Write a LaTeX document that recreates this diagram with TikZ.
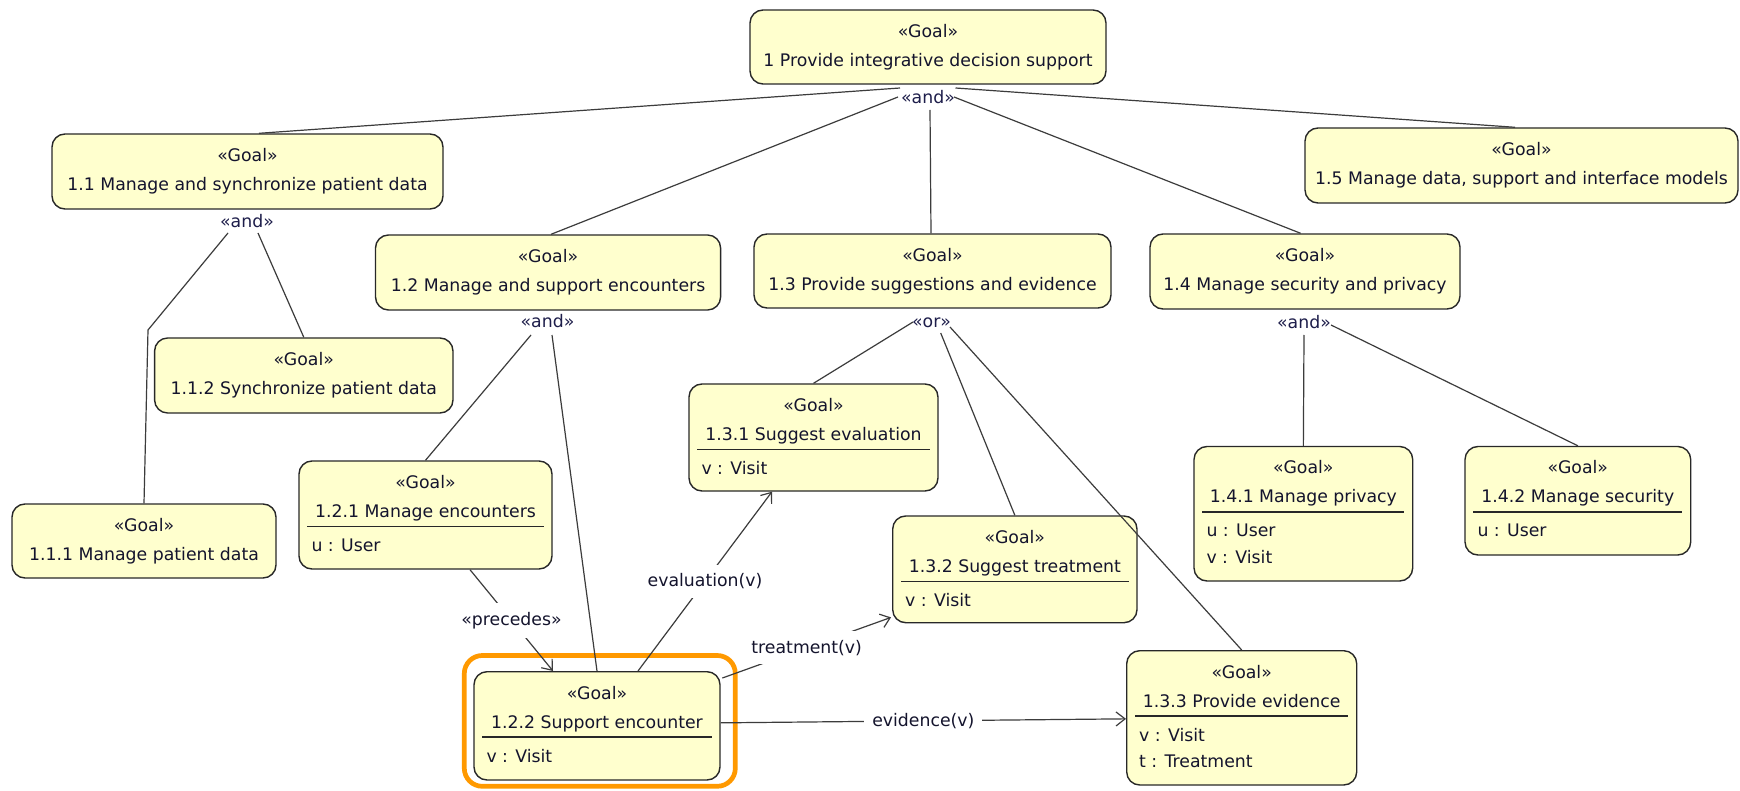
\documentclass[tikz,border=0pt]{standalone}
\usepackage{fontspec}
\setmainfont{DejaVu Sans}
\usetikzlibrary{arrows.meta}

\definecolor{goalfill}{RGB}{255,255,206}
\definecolor{goalline}{RGB}{40,40,40}
\definecolor{goaltext}{RGB}{20,20,45}
\definecolor{optext}{RGB}{30,30,75}
\definecolor{linkcol}{RGB}{60,60,60}
\definecolor{focus}{RGB}{255,153,0}

\tikzset{
  goal/.style={rectangle, draw=goalline, line width=1.4pt, fill=goalfill,
    rounded corners=13pt, inner sep=0pt},
  txt/.style={text=goaltext, inner sep=0pt, anchor=base},
  attr/.style={text=goaltext, inner sep=0pt, anchor=base west},
  compsep/.style={draw=goalline, line width=1.5pt},
  decomp/.style={text=optext, inner sep=0pt, anchor=base},
  link/.style={draw=linkcol, line width=1.2pt},
  dep/.style={link, -{Straight Barb[length=9pt,width=14pt,line width=1.2pt]}},
  deplabel/.style={fill=white, text=goaltext, inner xsep=8pt, inner ysep=9pt},
  focusbox/.style={draw=focus, line width=4.7pt, rounded corners=18pt},
}

% goal box: name, x1, y1, x2, y2, title
\newcommand\goalbox[6]{%
  \node[goal, minimum width={(#4)-(#2)}, minimum height={(#5)-(#3)}]
    (#1) at ({((#2)+(#4))/2},{((#3)+(#5))/2}) {};
  \node[txt] (#1-st) at ([yshift=-28pt]#1.north) {«Goal»};
  \node[txt] (#1-t) at ([yshift=-57pt]#1.north) {#6};
}
% compartment line under the title
\newcommand\goalsep[1]{%
  \draw[compsep] ([xshift=9pt,yshift=-66pt]#1.north west)
    -- ([xshift=-9pt,yshift=-66pt]#1.north east);
}
% attribute row: name, row number, text
\newcommand\goalattr[3]{%
  \node[attr] (#1-a#2) at ([xshift=13pt,yshift={-64.5pt-26.5pt*#2}]#1.north west) {#3};
}

\begin{document}
\begin{tikzpicture}[x=1pt,y=-1pt,font=\fontsize{17.3}{20}\selectfont]
\fill[white] (0,0) rectangle (1740,791);
\useasboundingbox (0,0) rectangle (1740,791);

% goals
\goalbox{g1}{750}{10}{1106}{84}{1 Provide integrative decision support}
\goalbox{g11}{52}{134}{443}{209}{1.1 Manage and synchronize patient data}
\goalbox{g15}{1305}{128}{1738}{203}{1.5 Manage data, support and interface models}
\goalbox{g12}{375.5}{235}{720.6}{310}{1.2 Manage and support encounters}
\goalbox{g13}{754}{234}{1111}{308}{1.3 Provide suggestions and evidence}
\goalbox{g14}{1150}{234}{1460}{309}{1.4 Manage security and privacy}
\goalbox{g112}{154.6}{338}{453}{413}{1.1.2 Synchronize patient data}
\goalbox{g111}{12}{504}{276}{578}{1.1.1 Manage patient data}

\goalbox{g121}{299}{461}{552}{569}{1.2.1 Manage encounters}
\goalsep{g121}\goalattr{g121}{1}{u : User}

\goalbox{g122}{474}{671.7}{720}{780}{1.2.2 Support encounter}
\goalsep{g122}\goalattr{g122}{1}{v : Visit}

\goalbox{g131}{689}{384}{938}{491}{1.3.1 Suggest evaluation}
\goalsep{g131}\goalattr{g131}{1}{v : Visit}

\goalbox{g132}{892.7}{516}{1137}{622.7}{1.3.2 Suggest treatment}
\goalsep{g132}\goalattr{g132}{1}{v : Visit}

\goalbox{g133}{1126.7}{650.7}{1356.7}{785}{1.3.3 Provide evidence}
\goalsep{g133}\goalattr{g133}{1}{v : Visit}\goalattr{g133}{2}{t : Treatment}

\goalbox{g141}{1194}{446.5}{1412.7}{581}{1.4.1 Manage privacy}
\goalsep{g141}\goalattr{g141}{1}{u : User}\goalattr{g141}{2}{v : Visit}

\goalbox{g142}{1465}{446.5}{1690.7}{555}{1.4.2 Manage security}
\goalsep{g142}\goalattr{g142}{1}{u : User}

% highlighted goal
\draw[focusbox] ([shift={(-9,-15.5)}]g122.north west)
  rectangle ([shift={(14.6,5.6)}]g122.south east);

% decomposition operators
\node[decomp] (and1)  at (928,104)  {«and»};
\node[decomp] (and11) at (247,228)  {«and»};
\node[decomp] (and12) at (547.5,328) {«and»};
\node[decomp] (or13)  at (931.5,328) {«or»};
\node[decomp] (and14) at (1304,329) {«and»};

% refinement links
\draw[link] ([shift={(-28,-16)}]and1.base) -- ([xshift=11.5pt]g11.north);
\draw[link] ([shift={(27.5,-16)}]and1.base) -- ([xshift=-6.5pt]g15.north);
\draw[link] ([shift={(-30,-7)}]and1.base) -- ([xshift=3pt]g12.north);
\draw[link] ([shift={(2,6)}]and1.base) -- ([xshift=-1.5pt]g13.north);
\draw[link] ([shift={(26,-7)}]and1.base) -- ([xshift=-4.4pt]g14.north);

\coordinate (bend111) at (148,330);
\draw[link] ([shift={(-19,5)}]and11.base) -- (bend111) -- (g111.north);
\draw[link] ([shift={(11,5)}]and11.base) -- (g112.north);

\draw[link] ([shift={(-16.5,7)}]and12.base) -- (g121.north);
\draw[link] ([shift={(4.5,7)}]and12.base) -- (g122.north);

\draw[link] ([shift={(-18.5,-6)}]or13.base) -- (g131.north);
\draw[link] ([shift={(9.2,5)}]or13.base) -- (g132.north);
\draw[link] ([shift={(18.5,-1)}]or13.base) -- (g133.north);

\draw[link] ([shift={(0,6)}]and14.base) -- (g141.north);
\draw[link] ([shift={(27,-4)}]and14.base) -- (g142.north);

% dependencies between goals
\draw[dep] ([xshift=44.5pt]g121.south) -- node[deplabel] (lprec) {«precedes»}
  ([xshift=-44pt]g122.north);
\draw[dep] ([xshift=41pt]g122.north) -- node[deplabel] (leval) {evaluation(v)}
  ([xshift=-41.5pt]g131.south);
\draw[dep] ([shift={(1.7,7)}]g122.north east) -- node[deplabel] (ltreat) {treatment(v)}
  ([shift={(-1,-6)}]g132.south west);
\draw[dep] ([yshift=3pt]g122.east) -- node[deplabel] (levid) {evidence(v)}
  ([yshift=-1pt]g133.west);
\end{tikzpicture}
\end{document}
